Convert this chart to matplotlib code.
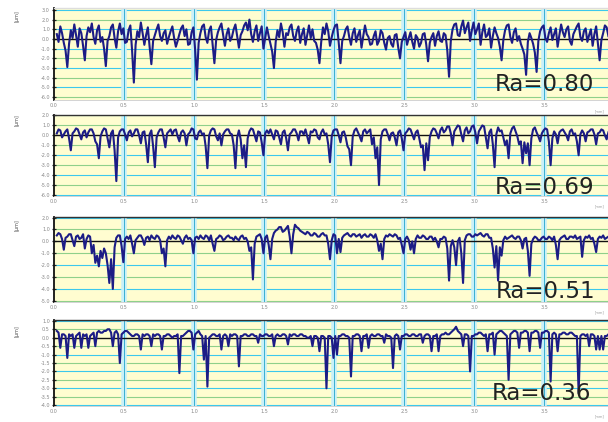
import numpy as np
import matplotlib
matplotlib.use('Agg')
import matplotlib.pyplot as plt

# ---------------- data ----------------
x_start, x_end = 0.02, 3.96

profile_080 = [
    0.5, -0.3, 1.3, 0.6, -0.4, -1.2, -2.9, -0.5, 0.9, 0.1, 1.5, 0.4, -0.8, 1.1, 0.6, -0.7, -2.2, 0.3, 1.2, 0.7,
    1.6, 0.2, -0.5, 0.9, 1.4, -0.3, 0.2, -1.0, -2.8, -0.2, 0.3, 1.2, 1.5, 0.1, -0.9, 0.8, 1.6, 0.5, 1.1, -0.4,
    -0.3, 0.9, 1.4, -1.2, -4.5, -0.6, 0.8, 0.2, 1.7, 0.6, -0.6, 0.4, 1.2, -0.8, -2.6, -0.2, 0.4, 1.0, 1.5, 0.3,
    -0.2, 0.6, 0.9, -0.5, 0.2, 0.8, 1.3, 0.1, -0.8, -0.2, 0.5, 1.1, 1.4, 0.3, 1.0, -0.6, -0.5, 0.7, 1.2, -1.1,
    -4.2, -0.4, 0.6, 1.3, 1.5, 0.2, -0.4, 0.9, 1.3, -0.6, -2.5, -0.1, 0.7, 1.2, 1.6, 0.4, -0.7, 0.5, 1.1, -0.2,
    0.2, 1.0, 1.5, 0.3, -0.9, 0.4, 0.8, 1.4, 1.7, 0.9, 2.0, 0.5, -0.3, 0.8, 1.4, -0.2, 0.6, 1.3, -1.0, 0.1,
    1.2, 0.3, -0.5, -1.3, -3.0, -0.3, 0.9, 0.2, 1.6, 0.7, -0.8, 0.6, 0.4, 1.2, 1.5, 0.3, -0.2, 0.8, 1.3, -0.4,
    0.5, 1.1, -0.6, 0.4, 1.4, 0.1, 1.0, -0.2, -0.4, -1.1, -2.5, -0.3, 1.2, 0.5, 1.6, 0.8, -0.7, 0.2, 0.9, 1.4,
    1.5, -0.4, -2.5, -0.2, 0.3, 1.0, 1.3, 0.2, -0.6, 0.6, 1.1, -0.3, 0.4, 0.9, -0.9, 0.3, 1.4, 0.5, 0.2, -0.6,
    -0.5, 0.3, 0.8, -0.6, -0.2, 0.9, 0.6, -0.4, -1.1, 0.1, 0.3, -0.5, -0.8, 0.4, 0.5, -0.9, -2.0, -0.3, 0.2, 0.7,
    -0.6, 0.1, 0.7, -0.3, -1.0, 0.4, 0.1, -0.8, -0.4, 0.5, 0.6, -0.6, -2.3, -0.4, 0.2, 0.6, -0.7, 0.3, 0.8, -0.2,
    -0.3, 0.6, 0.4, -1.2, -3.9, -0.2, 1.0, 1.5, 1.6, 0.4, 0.3, 1.3, 1.9, 0.6, 1.2, 1.7, -0.2, 0.9, 1.7, 0.5,
    1.0, 1.6, -0.6, 0.7, 1.5, 0.2, 0.4, 1.1, -0.9, 0.3, 1.2, 0.6, 0.1, -0.8, -2.2, -0.1, 0.9, 1.4, 1.5, 0.2,
    -0.4, 0.7, 1.1, -0.2, 0.3, -0.5, -1.0, -1.6, -3.7, -0.3, 0.6, 0.1, -0.5, -1.4, -3.4, -0.2, 0.8, 1.2, 1.4, 0.1,
    -0.3, 0.6, 1.2, -0.1, 0.5, 1.1, -0.8, 0.4, 1.5, 0.7, 0.2, 1.0, 1.3, -0.2, -0.6, 0.5, 0.9, 1.3, 1.6, 0.2,
    -0.2, 0.8, 1.1, -0.3, 0.4, 1.0, -0.7, 0.5, 1.3, -0.4, -2.2, -0.1, 0.6, 1.4, 1.2, 0.3,
]

profile_069 = [
    0.2, 0.6, 0.5, -0.2, 0.1, 0.4, 0.6, -0.3, -1.5, 0.2, 0.4, 0.7, 0.6, 0.1, -0.4, 0.3, 0.5, -0.2, 0.3, 0.6,
    0.6, 0.2, -0.6, -0.9, -2.3, -0.1, 0.4, 0.7, 0.6, -0.3, -1.2, 0.2, 0.5, -1.5, -4.6, -0.2, 0.4, 0.6, 0.6, 0.1,
    -0.5, 0.3, 0.5, -0.1, 0.2, 0.6, 0.6, 0.0, -0.8, 0.3, 0.4, -0.9, -2.7, 0.1, 0.5, -1.1, -3.2, -0.2, 0.3, 0.6,
    0.6, -0.2, -1.2, 0.2, 0.4, 0.6, 0.1, 0.5, 0.6, -0.1, -0.6, 0.3, 0.5, 0.2, -1.0, 0.1, 0.3, 0.7, 0.6, -0.3,
    -0.4, 0.3, 0.5, 0.1, 0.2, -1.1, -3.3, 0.0, 0.5, 0.7, 0.6, -0.1, -0.5, 0.2, -1.0, 0.1, 0.4, 0.6, 0.6, 0.2,
    0.1, -1.0, -3.3, -0.2, 0.5, -0.4, -2.3, -1.0, -3.2, -0.3, 0.4, 0.7, 0.6, 0.0, -0.6, 0.4, 0.3, -0.7, -2.0, 0.2,
    0.5, 0.2, 0.6, 0.1, -0.4, 0.5, 0.4, -0.2, -0.9, 0.3, 0.5, -0.3, -1.5, 0.1, 0.3, 0.6, 0.6, 0.2, -0.5, 0.4,
    0.4, 0.1, 0.6, -0.1, -0.8, 0.4, 0.3, 0.6, 0.5, -0.2, -0.4, 0.3, 0.6, 0.1, 0.2, -0.9, -2.7, -0.1, 0.5, 0.6,
    0.6, 0.0, -0.7, 0.3, 0.4, -0.2, -1.1, -1.4, -3.0, -0.1, 0.5, 0.7, 0.3, -0.1, -0.6, 0.4, 0.6, 0.2, 0.4, 0.6,
    -0.9, -0.2, -2.3, -1.2, -5.0, -0.4, 0.4, 0.6, 0.6, 0.1, -0.5, 0.2, 0.3, -0.2, -1.0, 0.3, 0.5, -0.3, -1.5, 0.2,
    0.4, 0.7, 0.6, 0.1, -0.4, 0.3, 0.5, -0.3, -1.2, -1.0, -3.5, -0.8, -2.5, -0.2, 0.4, 0.7, 0.6, 0.2, -0.3, 0.5,
    0.8, 0.3, 0.5, 0.9, 0.9, 0.2, -1.0, 0.4, 0.7, 1.0, 0.9, 0.1, -0.6, 0.5, 0.8, 0.2, 0.4, 0.9, 1.0, 0.3,
    -0.8, 0.4, 0.7, 1.0, 0.9, -0.2, -1.3, 0.3, 0.6, -0.9, -3.2, 0.1, 0.8, 0.4, 0.5, -0.2, -1.0, -0.5, -2.3, 0.2,
    0.7, 0.9, 0.4, -0.1, -0.9, -0.6, -2.8, -0.7, -1.8, -0.8, -3.0, -0.3, 0.6, 0.8, 0.3, -0.1, -0.6, 0.2, 0.5, 0.7,
    0.6, -0.6, -3.0, -0.3, 0.4, 0.1, -0.8, 0.3, 0.5, 0.6, 0.3, 0.0, -0.5, 0.4, 0.6, 0.1, 0.2, -0.6, -2.0, 0.1,
    0.5, 0.2, -0.6, 0.3, 0.4, 0.6, 0.6, 0.1, -0.9, 0.2, 0.3, 0.6, 0.5, 0.0, -0.4, 0.3,
]

profile_051 = [
    0.5, 0.7, 0.6, 0.2, -0.7, 0.3, 0.4, 0.6, 0.6, 0.1, -0.4, 0.4, 0.5, 0.2, 0.3, 0.6, -0.6, 0.2, 0.5, 0.4,
    -1.0, -0.3, -1.8, -1.2, -2.1, -0.8, -1.4, -0.6, -1.0, -2.0, -3.5, -1.5, -4.0, -0.5, 0.3, 0.5, 0.5, -0.4, -1.75, 0.2,
    0.4, 0.2, 0.5, -0.2, -1.0, 0.1, 0.3, 0.5, 0.5, 0.2, -0.3, 0.3, 0.4, 0.1, 0.5, 0.3, 0.2, 0.5, 0.4, 0.1,
    -1.0, -0.6, -2.1, 0.1, 0.4, 0.2, 0.5, 0.3, 0.2, 0.5, 0.4, 0.1, -0.2, 0.3, 0.5, 0.2, 0.3, 0.1, -1.0, 0.3,
    0.4, 0.2, 0.5, 0.3, 0.2, 0.5, 0.4, 0.1, 0.5, -0.2, -0.8, 0.2, 0.3, 0.5, 0.4, 0.1, 0.2, 0.4, 0.5, 0.3,
    0.3, 0.1, 0.4, 0.2, 0.1, 0.4, 0.5, 0.2, 0.3, 0.0, -0.8, -0.5, -3.2, -0.2, 0.4, 0.5, 0.6, 0.2, -1.0, 0.3,
    0.5, -0.3, -1.5, 0.2, 0.7, 0.9, 1.0, 1.2, 1.2, 0.8, 0.9, 1.1, 1.3, 0.4, -1.0, 0.6, 1.4, 1.2, 1.1, 0.9,
    0.8, 0.7, 0.6, 0.8, 0.7, 0.5, 0.5, 0.7, 0.6, 0.4, 0.4, 0.6, 0.7, 0.5, 0.5, -0.2, -1.5, 0.1, 0.6, 0.5,
    -1.0, 0.2, -0.9, 0.3, 0.5, 0.6, 0.7, 0.5, 0.4, 0.6, 0.6, 0.4, 0.5, 0.6, 0.3, 0.5, 0.6, 0.4, 0.4, 0.6,
    0.5, 0.3, 0.6, 0.1, -0.8, -0.2, -1.5, 0.2, 0.5, 0.4, 0.6, 0.5, 0.4, 0.6, 0.5, 0.2, 0.3, -0.3, -1.0, 0.2,
    0.4, 0.1, -0.7, 0.0, -1.0, 0.2, 0.5, 0.3, 0.3, 0.5, 0.4, 0.2, 0.2, 0.4, 0.4, 0.1, 0.3, 0.0, -0.5, 0.2,
    0.2, 0.4, 0.3, -0.6, -3.3, -0.4, 0.1, -0.5, -2.0, 0.0, 0.3, -1.0, -3.5, 0.1, 0.5, 0.6, 0.6, 0.4, 0.4, 0.6,
    0.5, 0.6, 0.7, 0.5, 0.4, 0.6, 0.6, 0.3, 0.3, -0.6, -2.2, -0.4, -3.3, -0.5, -1.2, 0.1, 0.4, 0.2, 0.3, 0.4,
    0.5, 0.3, 0.2, 0.4, 0.4, 0.1, -0.6, 0.2, 0.3, -0.8, -2.9, -0.2, 0.2, 0.4, 0.3, 0.1, 0.1, 0.3, 0.4, 0.2,
    0.2, 0.4, 0.3, 0.1, 0.4, -0.3, -1.5, 0.1, 0.3, 0.4, 0.5, 0.2, 0.2, 0.4, 0.4, 0.3, 0.5, 0.2, 0.3, 0.4,
    -1.3, 0.1, 0.4, 0.3, 0.5, 0.2, 0.3, -0.2, -0.9, 0.2, 0.4, 0.3, 0.5, 0.2, 0.3, 0.4,
]

profile_036 = [
    0.4, 0.3, -0.6, 0.2, 0.2, 0.1, -1.2, 0.2, 0.1, 0.2, -0.6, 0.1, 0.2, 0.3, -0.6, 0.2, 0.1, 0.2, -0.6, 0.1,
    0.2, 0.3, -0.5, 0.3, 0.4, 0.3, 0.3, 0.4, 0.4, 0.5, 0.5, 0.3, -0.5, 0.3, 0.4, 0.2, -1.5, 0.2, 0.3, 0.4,
    0.4, 0.3, 0.2, 0.1, 0.1, 0.2, 0.2, 0.1, -0.7, 0.2, 0.1, 0.2, 0.2, 0.1, -0.5, 0.2, 0.1, 0.2, 0.2, 0.1,
    -0.7, 0.1, 0.1, 0.2, 0.2, 0.1, 0.0, 0.1, 0.1, 0.2, -2.1, 0.1, 0.1, 0.2, 0.3, 0.4, 0.4, 0.3, -0.7, 0.2,
    0.3, 0.4, 0.2, 0.1, -1.3, 0.1, -2.9, 0.0, 0.1, 0.2, 0.2, 0.1, 0.1, 0.2, -0.7, 0.1, 0.2, 0.1, -0.5, 0.2,
    0.1, 0.2, 0.2, 0.1, -1.7, 0.1, 0.1, 0.2, 0.2, 0.1, 0.1, 0.2, 0.2, 0.1, 0.1, -0.3, 0.2, 0.1, 0.1, 0.2,
    0.2, 0.1, 0.1, 0.2, -0.5, 0.1, 0.2, 0.1, 0.1, 0.2, 0.2, 0.1, -0.4, 0.2, 0.1, 0.2, 0.2, 0.1, 0.1, 0.2,
    0.2, 0.1, 0.1, 0.0, 0.0, 0.1, -0.5, 0.1, 0.1, 0.0, -0.8, 0.1, 0.1, 0.0, -3.0, 0.1, 0.1, 0.0, -1.2, 0.1,
    -1.0, 0.1, 0.1, 0.2, 0.2, 0.1, 0.1, 0.0, -2.3, 0.1, 0.1, 0.2, 0.2, 0.1, -0.8, 0.1, 0.1, 0.2, -0.6, 0.1,
    0.2, 0.1, 0.1, 0.2, 0.2, 0.1, 0.1, -0.3, 0.2, 0.1, 0.1, 0.0, -1.8, 0.1, 0.2, 0.1, -0.7, 0.1, 0.1, 0.2,
    0.2, 0.1, 0.1, 0.2, 0.2, 0.1, 0.1, 0.2, 0.2, -0.3, 0.1, 0.2, 0.2, 0.1, -0.8, 0.1, 0.1, 0.2, -0.8, 0.1,
    0.2, 0.2, 0.3, 0.2, 0.2, 0.3, 0.4, 0.5, 0.65, 0.4, 0.3, 0.2, -0.5, 0.2, 0.2, 0.1, -2.0, 0.1, 0.1, 0.2,
    0.2, 0.3, 0.3, 0.2, 0.1, 0.2, -0.8, 0.2, 0.2, 0.3, -1.0, 0.2, 0.3, 0.4, 0.4, 0.3, 0.2, 0.1, -2.5, 0.2,
    0.3, 0.4, 0.4, 0.3, -0.6, 0.3, 0.3, 0.4, 0.4, 0.3, -0.8, 0.3, 0.3, 0.4, 0.4, 0.3, -0.6, 0.3, 0.3, 0.4,
    0.4, 0.3, -2.6, 0.2, 0.3, 0.2, -0.8, 0.2, 0.2, 0.3, 0.3, 0.2, 0.2, 0.3, 0.3, 0.2, 0.1, 0.1, -3.3, 0.1,
    0.2, 0.2, 0.1, 0.2, -0.5, 0.2, 0.2, 0.1, -0.7, 0.1, -0.7, 0.1, -0.7, 0.1, 0.1, 0.2,
]

ra_labels = ["Ra=0.80", "Ra=0.69", "Ra=0.51", "Ra=0.36"]
x_ticks = [0.0, 0.5, 1.0, 1.5, 2.0, 2.5, 3.0, 3.5]
x_tick_labels = ["0.0", "0.5", "1.0", "1.5", "2.0", "2.5", "3.0", "3.5"]
y_ticks_1 = [3.0, 2.0, 1.0, 0.0, -1.0, -2.0, -3.0, -4.0, -5.0, -6.0]
y_ticks_2 = [2.0, 1.0, 0.0, -1.0, -2.0, -3.0, -4.0, -5.0, -6.0]
y_ticks_3 = [2.0, 1.0, 0.0, -1.0, -2.0, -3.0, -4.0, -5.0]
y_ticks_4 = [1.0, 0.5, 0.0, -0.5, -1.0, -1.5, -2.0, -2.5, -3.0, -3.5, -4.0]

profiles = [profile_080, profile_069, profile_051, profile_036]
y_ticks_all = [y_ticks_1, y_ticks_2, y_ticks_3, y_ticks_4]

# ---------------- layout (pixels) ----------------
W, H = 608, 422
fig = plt.figure(figsize=(W / 100, H / 100), dpi=100)
fig.patch.set_facecolor('white')

panel_px = [(8, 100), (115, 196), (217, 302), (320, 406)]   # top, bottom
ylims = [(-6.3, 3.2), (-6.1, 2.05), (-5.1, 2.05), (-4.05, 1.05)]
ra_pos = [(0.795, 0.17), (0.795, 0.11), (0.798, 0.12), (0.79, 0.15)]
ylab_y = [16, 120, 225, 331]
left_px = 54
xmax = (W - left_px) / 140.0

line_color = '#1c1c86'
grid_cyan = '#3cc8ec'

for k in range(4):
    top, bot = panel_px[k]
    ax = fig.add_axes([left_px / W, 1 - bot / H, 1 - left_px / W, (bot - top) / H])
    ax.set_facecolor('#fffdd0')
    prof = profiles[k]
    xs = np.linspace(x_start, x_end, len(prof))
    ax.set_xlim(0, xmax)
    ax.set_ylim(*ylims[k])
    yt = y_ticks_all[k]
    for j, yv in enumerate(yt):
        if yv == 0.0:
            continue
        col = grid_cyan if j % 2 == 0 else '#8fd08a'
        ax.axhline(yv, color=col, lw=0.8, zorder=1)
    for xv in x_ticks[1:]:
        ax.axvline(xv, color='#c8f0f8', lw=4, zorder=1)
        ax.axvline(xv, color='#3aaed0', lw=0.7, zorder=1.2)
    ax.axhline(0.0, color='#111111', lw=1.0, zorder=2)
    ax.plot(xs, prof, color=line_color, lw=1.5, zorder=3)

    ax.set_xticks(x_ticks)
    ax.set_xticklabels(x_tick_labels)
    ax.set_yticks(yt)
    ax.set_yticklabels([f"{v:.1f}" for v in yt])
    ax.tick_params(axis='both', labelsize=3.5, labelcolor='#888888', length=3,
                   width=0.9, color='#222222', direction='inout', pad=1.5)
    ax.tick_params(axis='x', length=0, pad=2.5)
    ax.spines['right'].set_visible(False)
    ax.spines['left'].set_color('#111111')
    ax.spines['left'].set_linewidth(1.3)
    ax.spines['top'].set_color('#333333' if k > 0 else '#dddddd')
    ax.spines['top'].set_linewidth(1.0)
    ax.spines['bottom'].set_color('#cccccc')
    ax.spines['bottom'].set_linewidth(0.6)

    ax.text(ra_pos[k][0], ra_pos[k][1], ra_labels[k], transform=ax.transAxes,
            fontsize=16.5, color='#222222', va='center', ha='left', zorder=5)
    ax.text(0.985, -0.10, "[mm]", transform=ax.transAxes, fontsize=2.5,
            color='#999999', ha='center', va='top')
    fig.text(17 / W, 1 - ylab_y[k] / H, "[μm]", rotation=90, fontsize=3.5,
             color='#555555', ha='center', va='center')

fig.savefig('out.png', dpi=100)
